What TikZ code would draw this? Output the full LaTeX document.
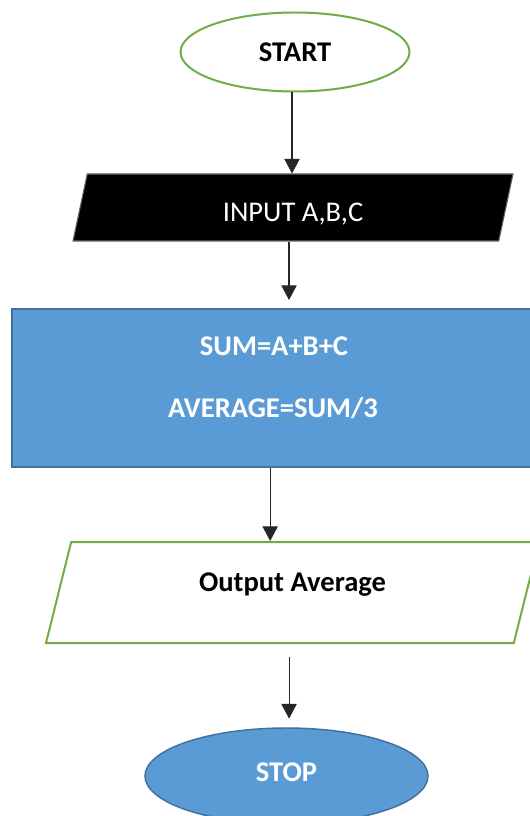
\documentclass[tikz,border=0pt]{standalone}
\usepackage{fontspec}
\setmainfont{Carlito}
\usepackage{xcolor}
\usetikzlibrary{arrows.meta,shapes.geometric}

\definecolor{termgreen}{HTML}{70AD47}
\definecolor{procblue}{HTML}{5B9BD5}
\definecolor{procedge}{HTML}{41719C}

\begin{document}
\begin{tikzpicture}[
  x=0.75pt, y=-0.75pt,
  font=\fontsize{21.4}{25}\selectfont,
  every node/.style={align=center},
  term/.style={
    ellipse, draw=termgreen, fill=white, line width=1.5pt,
    minimum width=171.75pt, minimum height=59.25pt,
    font=\fontsize{21.4}{25}\selectfont\bfseries
  },
  stopbox/.style={
    ellipse, draw=procedge, fill=procblue, line width=1.1pt,
    minimum width=212.25pt, minimum height=72pt, text=white,
    font=\fontsize{21.4}{25}\selectfont\bfseries
  },
  io/.style={
    trapezium, trapezium stretches body, line width=0.8pt
  },
  proc/.style={
    draw=procedge, fill=procblue, line width=1.5pt,
    minimum width=389.25pt, minimum height=118.5pt
  },
  wtxt/.style={
    text=white, text height=13.8pt, text depth=0pt,
    font=\fontsize{21.4}{25}\selectfont\bfseries
  },
  arr/.style={-{Triangle[length=11pt,width=11.5pt]}, line width=0.8pt, black!85}
]
\useasboundingbox (0,0) rectangle (530,816);
\clip (0,0) rectangle (530,816);
\fill[white] (0,0) rectangle (530,816);

\node[term, text height=13.8pt, text depth=0pt] (start) at (295,52) {START};
\node[io, fill=black, draw=black!60, text=white,
  trapezium left angle=78, trapezium right angle=102,
  minimum width=330pt, inner ysep=14.875pt,
  text height=20.5pt, text depth=0pt] (input) at (293,207.5) {INPUT A,B,C};
\node[proc] (calc) at (271.5,388) {};
\node[wtxt] (sumline) at (274,346) {SUM=A+B+C};
\node[wtxt] (avgline) at (273,408) {AVERAGE=SUM/3};
\node[io, draw=termgreen, fill=white, line width=1.5pt,
  trapezium left angle=76, trapezium right angle=104,
  minimum width=369.75pt, inner ysep=23.1pt,
  text height=13.8pt, text depth=15.75pt,
  font=\fontsize{21.4}{25}\selectfont\bfseries] (output) at (292.5,592.5) {Output Average};
\node[stopbox, text height=13.8pt, text depth=6pt] (stop) at (286.5,776) {STOP};

\draw[arr] ([xshift=-2.25pt]start.south) -- ([xshift=-2.25pt]start.south |- input.north);
\draw[arr, shorten >=6pt] ([xshift=-3pt]input.south) -- ([xshift=-3pt]input.south |- calc.north);
\draw[arr] ([xshift=-1pt]calc.south) -- ([xshift=-1pt]calc.south |- output.north);
\draw[arr, shorten <=10pt, shorten >=6.5pt] ([xshift=-2.6pt]output.south) -- ([xshift=-2.6pt]output.south |- stop.north);

\end{tikzpicture}
\end{document}
